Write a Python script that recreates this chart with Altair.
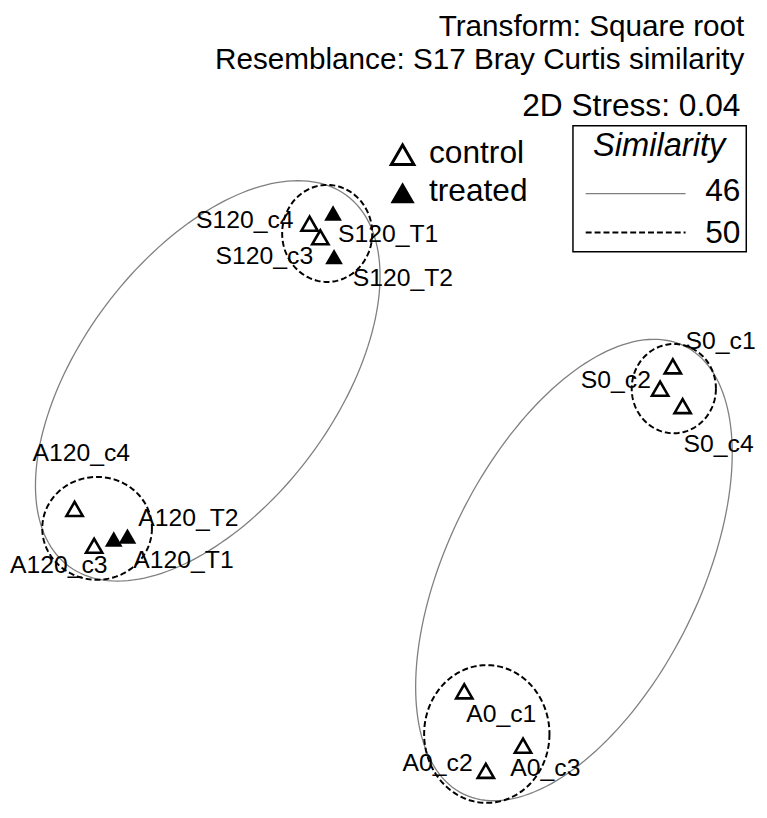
import altair as alt
import numpy as np
import pandas as pd

# ---------------- data (in picture units) ----------------
samples = ["S120_c4", "S120_c3", "S120_T1", "S120_T2",
           "A120_c4", "A120_c3", "A120_T1", "A120_T2",
           "S0_c1", "S0_c2", "S0_c4",
           "A0_c1", "A0_c3", "A0_c2"]
treatment = ["control", "control", "treated", "treated",
             "control", "control", "treated", "treated",
             "control", "control", "control",
             "control", "control", "control"]
mds_x = [308, 319, 332, 333, 68, 88, 108, 122, 679, 666, 689, 466, 526, 488]
mds_y = [218, 232, 207, 252, 512, 550, 543, 540, 365, 388, 406, 700, 756, 782]
label_x = [192, 212, 337, 352, 25, 2, 128, 133, 692, 585, 690, 468, 513, 403]
label_y = [222, 260, 237, 282, 463, 578, 573, 530, 347, 387, 453, 732, 787, 782]

# similarity contours: centre, semi-axes, rotation (deg), similarity level
ell_cx = [204, 578, 326, 91, 680, 489]
ell_cy = [380, 575, 228, 532, 388, 744]
ell_a = [238, 257, 46, 56, 43, 64]
ell_b = [130, 129, 50, 53, 46, 71]
ell_angle = [53.5, 64.0, 0, 0, 0, 0]
ell_level = [46, 46, 50, 50, 50, 50]

# ---------------- geometry ----------------
W, H = 759, 802
REF_W, REF_H = 767, 818
sx, sy = W / REF_W, H / REF_H


def px(v):
    return v * sx


def py(v):
    return v * sy


pts = pd.DataFrame({"sample": samples, "treatment": treatment,
                    "x": mds_x, "y": mds_y, "lx": label_x, "ly": label_y})

rows = []
t = np.linspace(0, 2 * np.pi, 181)
for i, (cx, cy, a, b, ang, lev) in enumerate(zip(ell_cx, ell_cy, ell_a, ell_b, ell_angle, ell_level)):
    th = np.deg2rad(ang)
    ex = cx + a * np.cos(t) * np.cos(th) + b * np.sin(t) * np.sin(th)
    ey = cy - a * np.cos(t) * np.sin(th) + b * np.sin(t) * np.cos(th)
    for k in range(len(t)):
        rows.append({"id": i, "level": lev, "k": k, "x": ex[k], "y": ey[k]})
ell = pd.DataFrame(rows)

xs = alt.Scale(domain=[0, REF_W], range=[0, W])
ys = alt.Scale(domain=[0, REF_H], range=[0, H])
FONT = "Liberation Sans"

solid = alt.Chart(ell[ell.level == 46]).mark_line(
    color="#7f7f7f", strokeWidth=1.3).encode(
    x=alt.X("x:Q", scale=xs, axis=None),
    y=alt.Y("y:Q", scale=ys, axis=None),
    detail="id:N", order="k:Q")

dashed = alt.Chart(ell[ell.level == 50]).mark_line(
    color="black", strokeWidth=2, strokeDash=[6, 3]).encode(
    x=alt.X("x:Q", scale=xs, axis=None),
    y=alt.Y("y:Q", scale=ys, axis=None),
    detail="id:N", order="k:Q")

open_pts = alt.Chart(pts[pts.treatment == "control"]).mark_point(
    shape="triangle-up", size=270, filled=False, stroke="black", strokeWidth=2.6, opacity=1).encode(
    x=alt.X("x:Q", scale=xs, axis=None),
    y=alt.Y("y:Q", scale=ys, axis=None))

filled_pts = alt.Chart(pts[pts.treatment == "treated"]).mark_point(
    shape="triangle-up", size=320, filled=True, color="black", opacity=1).encode(
    x=alt.X("x:Q", scale=xs, axis=None),
    y=alt.Y("y:Q", scale=ys, axis=None))

labels = alt.Chart(pts).mark_text(
    align="left", baseline="alphabetic", font=FONT, fontSize=25, color="black").encode(
    x=alt.X("lx:Q", scale=xs, axis=None),
    y=alt.Y("ly:Q", scale=ys, axis=None),
    text="sample:N")


# ---------------- annotation / legend ----------------
def txt(s, x, y, align="right", size=32, style="normal"):
    return alt.Chart(pd.DataFrame({"t": [s]})).mark_text(
        align=align, baseline="alphabetic", font=FONT, fontSize=size,
        fontStyle=style, color="black").encode(
        x=alt.value(px(x)), y=alt.value(py(y)), text="t:N")


header = [
    txt("Transform: Square root", 752, 24, size=30),
    txt("Resemblance: S17 Bray Curtis similarity", 752, 59, size=30),
    txt("2D Stress: 0.04", 748, 107),
    txt("control", 430, 155, align="left"),
    txt("treated", 430, 195, align="left"),
    txt("Similarity", 665, 148, align="center", size=33, style="italic"),
    txt("46", 748, 195),
    txt("50", 748, 238),
]

one = pd.DataFrame({"v": [0]})
leg_open = alt.Chart(one).mark_point(
    shape="triangle-up", size=520, filled=False, stroke="black", strokeWidth=3, opacity=1).encode(
    x=alt.value(px(403)), y=alt.value(py(147)))
leg_filled = alt.Chart(one).mark_point(
    shape="triangle-up", size=600, filled=True, color="black", opacity=1).encode(
    x=alt.value(px(403)), y=alt.value(py(186)))
box = alt.Chart(one).mark_rect(fill=None, stroke="black", strokeWidth=1.5).encode(
    x=alt.value(px(577)), x2=alt.value(px(754)), y=alt.value(py(117)), y2=alt.value(py(247)))
rule46 = alt.Chart(one).mark_rule(color="#7f7f7f", strokeWidth=1.3).encode(
    x=alt.value(px(590)), x2=alt.value(px(692)), y=alt.value(py(187)))
rule50 = alt.Chart(one).mark_rule(color="black", strokeWidth=2, strokeDash=[6, 3]).encode(
    x=alt.value(px(590)), x2=alt.value(px(692)), y=alt.value(py(227)))

chart = alt.layer(
    solid, dashed, open_pts, filled_pts, labels,
    leg_open, leg_filled, box, rule46, rule50, *header
).properties(
    width=W, height=H, padding=0,
    autosize=alt.AutoSizeParams(type="none"),
    background="white",
).configure_view(stroke=None)

chart.save("out.html", embed_options={"renderer": "svg", "actions": False})
